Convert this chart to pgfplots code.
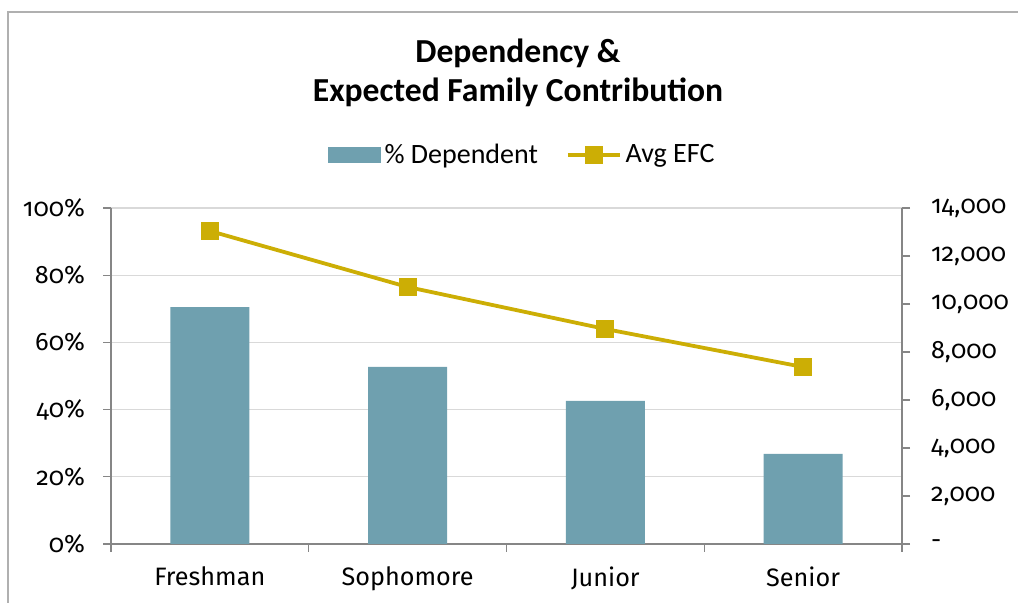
\documentclass[border=0pt]{standalone}
\usepackage{pgfplots}
\pgfplotsset{compat=1.18}
\usepackage{fontspec}
\setmainfont{Carlito}
\newfontfamily\tickfont[Numbers=OldStyle]{Fira Sans}
\definecolor{barc}{HTML}{6FA0AF}
\definecolor{linec}{HTML}{CCAE05}
\definecolor{axc}{HTML}{868686}
\definecolor{gridc}{HTML}{D9D9D9}
\definecolor{framec}{HTML}{B0B0B0}
\begin{document}
\begin{tikzpicture}[x=0.5pt,y=0.5pt]
\path[use as bounding box] (0,0) rectangle (1018,603);
\draw[framec, line width=1pt] (7.5,-10) -- (7.5,591) -- (1030,591);
\node[font=\fontsize{16.8}{19.5}\selectfont\bfseries, align=center] at (518,530) {Dependency \&\\Expected Family Contribution};
\begin{axis}[
  at={(55.5pt,29.5pt)}, anchor=south west,
  scale only axis, width=395.5pt, height=168pt,
  xmin=-0.5, xmax=3.5, ymin=0, ymax=100,
  axis x line*=bottom, axis y line*=left,
  axis line style={axc, line width=0.6pt},
  tick align=outside,
  xtick={0,1,2,3},
  xticklabels={Freshman,Sophomore,Junior,Senior},
  minor xtick={-0.5,0.5,1.5,2.5,3.5},
  major x tick style={draw=none},
  minor tick style={axc, line width=0.6pt},
  major tick length=4pt, minor tick length=4pt,
  ytick={0,20,40,60,80,100},
  yticklabels={0\%,20\%,40\%,60\%,80\%,100\%},
  y tick style={axc, line width=0.6pt},
  ymajorgrids, major grid style={gridc, line width=0.6pt},
  tick label style={font=\tickfont\fontsize{12.6}{13}\selectfont},
  yticklabel style={xshift=-5.5pt},
  xticklabel style={yshift=-4pt},
]
\addplot[ybar, bar width=0.4, fill=barc, draw=none] coordinates {(0,70.5)(1,52.7)(2,42.6)(3,26.8)};
\end{axis}
\begin{axis}[
  at={(55.5pt,29.5pt)}, anchor=south west,
  scale only axis, width=395.5pt, height=168pt,
  xmin=-0.5, xmax=3.5, ymin=0, ymax=14000,
  scaled y ticks=false,
  axis x line=none, axis y line*=right,
  axis line style={axc, line width=0.6pt},
  tick align=outside,
  major tick length=4pt,
  ytick={0,2000,4000,6000,8000,10000,12000,14000},
  yticklabels={-,{2,000},{4,000},{6,000},{8,000},{10,000},{12,000},{14,000}},
  y tick style={axc, line width=0.6pt},
  tick label style={font=\tickfont\fontsize{12.6}{13}\selectfont},
  yticklabel style={xshift=7pt, anchor=west},
  legend columns=2,
  legend style={draw=none, fill=none, at={(0.521,1.158)}, anchor=center,
    font=\fontsize{14}{14}\selectfont,
    /tikz/every even column/.append style={column sep=12pt},
    inner sep=0pt, cells={inner xsep=2pt}},
]
\addlegendimage{legend image code/.code={\fill[barc] (0pt,-3.75pt) rectangle (26pt,3.75pt);}}
\addlegendentry{\% Dependent}
\addplot[linec, line width=1.9pt, mark=square*, mark size=3.5pt, mark options={fill=linec, draw=linec, solid},
  legend image code/.code={\draw[linec, line width=1.9pt] (0pt,0pt) -- (26pt,0pt); \fill[linec] (9.5pt,-3.5pt) rectangle (16.5pt,3.5pt);}]
  coordinates {(0,13042)(1,10708)(2,8958)(3,7375)};
\addlegendentry{Avg EFC}
\end{axis}
\end{tikzpicture}
\end{document}
